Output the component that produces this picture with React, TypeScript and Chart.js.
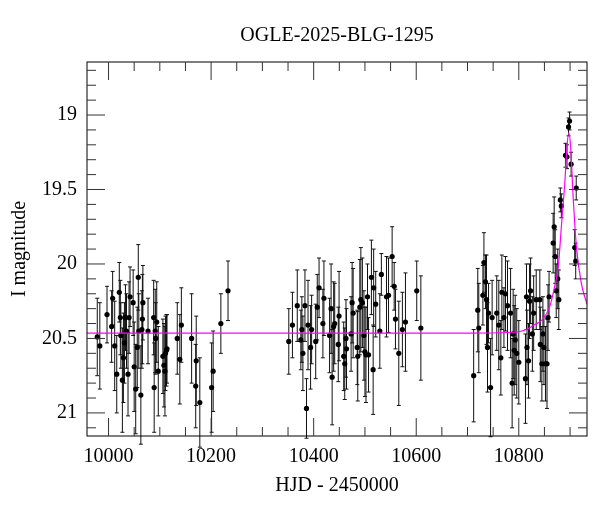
import React, { useEffect, useRef } from 'react';
import { Chart, registerables } from 'chart.js';

Chart.register(...registerables);

const chartTitle = 'OGLE-2025-BLG-1295';
const xTitle = 'HJD - 2450000';
const yTitle = 'I magnitude';

const xTickValues = [10000, 10200, 10400, 10600, 10800];
const yTickValues = [19, 19.5, 20, 20.5, 21];
const xRange = [9958, 10933];
const yRange = [18.644, 21.155];

// observations: HJD-2450000, I mag, error
const obsDays = [
  9978, 9983, 9997, 10006, 10008, 10012, 10016, 10021, 10023, 10024, 10027, 10029, 10031, 10033, 10035, 10038, 10040, 10042,
  10048, 10050, 10053, 10056, 10058, 10059, 10063, 10065, 10066, 10067, 10077, 10088, 10089, 10091, 10092, 10094, 10097,
  10106, 10108, 10110, 10111, 10113, 10114, 10134, 10139, 10142, 10162, 10170, 10171, 10178, 10201, 10204, 10219, 10233,
  10351.5, 10358.6, 10368, 10375, 10377, 10379, 10383, 10386, 10389, 10394, 10396, 10404, 10407, 10410.5, 10418, 10420,
  10431, 10434, 10436, 10439, 10441, 10448, 10449.5, 10458.6, 10460.6, 10463, 10464, 10473, 10475, 10477, 10485, 10486,
  10490, 10492, 10495, 10498, 10500, 10502, 10505, 10507, 10512.6, 10516, 10517, 10521, 10529, 10532, 10542, 10546, 10553,
  10557, 10559.5, 10566, 10573, 10579, 10601, 10609,
  10712, 10720, 10722, 10730, 10732, 10735, 10737, 10739, 10741, 10745, 10748, 10757, 10761, 10765, 10767, 10771, 10774,
  10778, 10784, 10787, 10789, 10791, 10793, 10796, 10800, 10813, 10815, 10816, 10819, 10821, 10823, 10826.5, 10829, 10834,
  10841, 10842, 10845, 10847, 10849, 10852, 10855, 10857, 10859, 10867, 10869, 10871, 10873, 10876, 10878, 10881, 10883,
  10891, 10894, 10897, 10899, 10902, 10912, 10909, 10911,
];
const obsMags = [
  20.49, 20.55, 20.34, 20.42, 20.23, 20.55, 20.74, 20.19, 20.36, 20.48, 20.78, 20.63, 20.53, 20.36, 20.45, 20.74, 20.36, 20.22,
  20.26, 20.69, 20.84, 20.56, 20.09, 20.45, 20.88, 20.44, 20.37, 20.26, 20.45, 20.36, 20.83, 20.45, 20.5, 20.39, 20.72,
  20.62, 20.68, 20.72, 20.6, 20.58, 20.57, 20.5, 20.64, 20.41, 20.5, 20.82, 20.65, 20.93, 20.83, 20.72, 20.4, 20.18,
  20.52, 20.41, 20.28, 20.51, 20.44, 20.6, 20.28, 20.97, 20.41, 20.56, 20.44, 20.52, 20.29, 20.16, 20.4, 20.23,
  20.48, 20.3, 20.76, 20.42, 20.4, 20.54, 20.35, 20.62, 20.67, 20.5, 20.57, 20.47, 20.26, 20.33, 20.56, 20.62,
  20.29, 20.24, 20.26, 20.48, 20.59, 20.61, 20.22, 20.61, 20.09, 20.71, 20.16, 20.27, 20.45, 20.07, 20.22, 20.21, 19.95,
  20.15, 20.37, 20.6, 20.44, 20.39, 20.18, 20.43,
  20.75, 20.31, 20.43, 20.21, 19.99, 20.12, 20.24, 20.56, 20.33, 20.83, 20.36, 20.33, 20.41, 20.63, 20.19, 20.36, 20.2,
  20.28, 20.33, 20.8, 20.47, 20.58, 20.51, 20.6, 20.66, 20.77, 20.22, 20.56, 20.65, 20.25, 20.18, 20.47, 20.33, 20.24,
  20.24, 20.54, 20.67, 20.47, 20.56, 20.67, 20.67, 20.36, 20.22, 19.86, 19.75, 19.95, 20.18, 20.1, 20.24, 19.57, 19.61,
  19.27, 19.28, 19.08, 19.04, 19.33, 19.49, 19.89, 19.98,
];
const obsErrs = [
  0.26, 0.29, 0.19, 0.24, 0.18, 0.3, 0.26, 0.2, 0.25, 0.22, 0.35, 0.3, 0.27, 0.22, 0.25, 0.28, 0.24, 0.2,
  0.22, 0.3, 0.3, 0.27, 0.22, 0.25, 0.33, 0.26, 0.3, 0.25, 0.22, 0.25, 0.3, 0.28, 0.24, 0.27, 0.3,
  0.25, 0.28, 0.3, 0.25, 0.24, 0.23, 0.24, 0.3, 0.25, 0.3, 0.28, 0.3, 0.3, 0.3, 0.27, 0.2, 0.2,
  0.22, 0.22, 0.24, 0.2, 0.22, 0.25, 0.24, 0.2, 0.3, 0.28, 0.23, 0.25, 0.22, 0.2, 0.23, 0.25,
  0.25, 0.3, 0.32, 0.3, 0.27, 0.25, 0.3, 0.23, 0.24, 0.26, 0.27, 0.25, 0.27, 0.3, 0.25, 0.3,
  0.32, 0.35, 0.3, 0.3, 0.3, 0.32, 0.22, 0.25, 0.25, 0.3, 0.26, 0.22, 0.25, 0.14, 0.27, 0.25, 0.2,
  0.16, 0.2, 0.35, 0.25, 0.33, 0.2, 0.35,
  0.31, 0.28, 0.3, 0.2, 0.2, 0.18, 0.3, 0.3, 0.2, 0.33, 0.25, 0.25, 0.3, 0.25, 0.25, 0.2, 0.25,
  0.3, 0.3, 0.3, 0.3, 0.3, 0.3, 0.3, 0.28, 0.3, 0.22, 0.25, 0.25, 0.25, 0.22, 0.25, 0.25, 0.2,
  0.2, 0.25, 0.25, 0.25, 0.25, 0.25, 0.3, 0.22, 0.17, 0.2, 0.2, 0.18, 0.18, 0.2, 0.2, 0.08, 0.08,
  0.08, 0.08, 0.06, 0.06, 0.08, 0.08, 0.12, 0.12,
];

// model curve
const modelDays = [9958, 10700, 10780, 10800, 10815, 10830, 10847, 10860, 10870, 10877, 10883, 10890, 10894, 10897.5, 10901, 10906, 10912.5, 10922, 10933];
const modelMags = [20.464, 20.464, 20.46, 20.455, 20.44, 20.41, 20.37, 20.29, 20.15, 20.02, 19.75, 19.44, 19.21, 19.12, 19.21, 19.55, 19.89, 20.13, 20.27];

const FONT = "'Liberation Serif', 'Times New Roman', serif";

const errorBars = {
  id: 'errorBars',
  beforeDatasetsDraw(chart: any) {
    const { ctx, scales } = chart;
    const meta = chart.getDatasetMeta(0);
    const ys = scales.y;
    ctx.save();
    ctx.strokeStyle = '#111';
    ctx.lineWidth = 1;
    ctx.beginPath();
    meta.data.forEach((pt: any, i: number) => {
      const x = pt.x;
      const y1 = ys.getPixelForValue(obsMags[i] - obsErrs[i]);
      const y2 = ys.getPixelForValue(obsMags[i] + obsErrs[i]);
      ctx.moveTo(x, y1);
      ctx.lineTo(x, y2);
      ctx.moveTo(x - 2, y1);
      ctx.lineTo(x + 2, y1);
      ctx.moveTo(x - 2, y2);
      ctx.lineTo(x + 2, y2);
    });
    ctx.stroke();
    ctx.restore();
  },
};

const frameTicks = {
  id: 'frameTicks',
  afterDraw(chart: any) {
    const { ctx, chartArea, scales } = chart;
    const { left, right, top, bottom } = chartArea;
    const xs = scales.x;
    const ys = scales.y;
    ctx.save();
    ctx.strokeStyle = '#000';
    ctx.lineWidth = 1;
    ctx.strokeRect(left, top, right - left, bottom - top);
    ctx.strokeStyle = '#333';
    ctx.beginPath();
    for (let v = Math.ceil(xRange[0] / 50) * 50; v <= xRange[1]; v += 50) {
      const px = xs.getPixelForValue(v);
      const len = v % 200 === 0 ? 18 : 9;
      ctx.moveTo(px, bottom);
      ctx.lineTo(px, bottom - len);
      ctx.moveTo(px, top);
      ctx.lineTo(px, top + len);
    }
    for (let k = Math.ceil(yRange[0] * 10); k <= Math.floor(yRange[1] * 10); k++) {
      const py = ys.getPixelForValue(k / 10);
      const len = k % 5 === 0 ? 18 : 9;
      ctx.moveTo(left, py);
      ctx.lineTo(left + len, py);
      ctx.moveTo(right, py);
      ctx.lineTo(right - len, py);
    }
    ctx.stroke();
    ctx.restore();
  },
};

export default function App() {
  const ref = useRef<HTMLCanvasElement | null>(null);
  useEffect(() => {
    if (!ref.current) return;
    const points = obsDays.map((d, i) => ({ x: d, y: obsMags[i] }));
    const model = modelDays.map((d, i) => ({ x: d, y: modelMags[i] }));
    const chart = new Chart(ref.current, {
      type: 'scatter',
      data: {
        datasets: [
          {
            type: 'scatter',
            data: points,
            backgroundColor: '#000',
            borderWidth: 0,
            pointRadius: 2.6,
            order: 1,
          },
          {
            type: 'line',
            data: model,
            borderColor: '#ff00ff',
            borderWidth: 1.2,
            pointRadius: 0,
            fill: false,
            cubicInterpolationMode: 'monotone',
            order: 0,
          } as any,
        ],
      },
      options: {
        animation: false,
        responsive: false,
        devicePixelRatio: 1,
        layout: { padding: { left: 0, right: 13, top: 0, bottom: 0 } },
        plugins: {
          legend: { display: false },
          tooltip: { enabled: false },
          title: {
            display: true,
            text: chartTitle,
            color: '#000',
            fullSize: false,
            font: { family: FONT, size: 20, weight: 'normal' },
            padding: { top: 24, bottom: 14 },
          },
        },
        scales: {
          x: {
            type: 'linear',
            min: xRange[0],
            max: xRange[1],
            afterBuildTicks: (s: any) => {
              s.ticks = xTickValues.map((v) => ({ value: v }));
            },
            afterFit: (s: any) => {
              s.height = 76;
            },
            grid: { display: false, drawTicks: false },
            border: { display: false },
            ticks: {
              color: '#000',
              padding: 9,
              maxRotation: 0,
              autoSkip: false,
              font: { family: FONT, size: 20 },
              callback: (v: any) => String(v),
            },
            title: {
              display: true,
              text: xTitle,
              color: '#000',
              font: { family: FONT, size: 20 },
              padding: { top: 0, bottom: 14 },
            },
          },
          y: {
            type: 'linear',
            reverse: true,
            min: yRange[0],
            max: yRange[1],
            afterBuildTicks: (s: any) => {
              s.ticks = yTickValues.map((v) => ({ value: v }));
            },
            afterFit: (s: any) => {
              s.width = 87;
            },
            grid: { display: false, drawTicks: false },
            border: { display: false },
            ticks: {
              color: '#000',
              padding: 10,
              autoSkip: false,
              font: { family: FONT, size: 20 },
              callback: (v: any) => String(v),
            },
            title: {
              display: true,
              text: yTitle,
              color: '#000',
              font: { family: FONT, size: 20 },
              padding: { top: 8, bottom: 0 },
            },
          },
        },
      },
      plugins: [errorBars, frameTicks],
    });
    return () => chart.destroy();
  }, []);
  return (
    <div style={{ position: 'absolute', left: 0, top: 0, width: 600, height: 512, background: '#fff' }}>
      <canvas ref={ref} width={600} height={512} />
    </div>
  );
}
